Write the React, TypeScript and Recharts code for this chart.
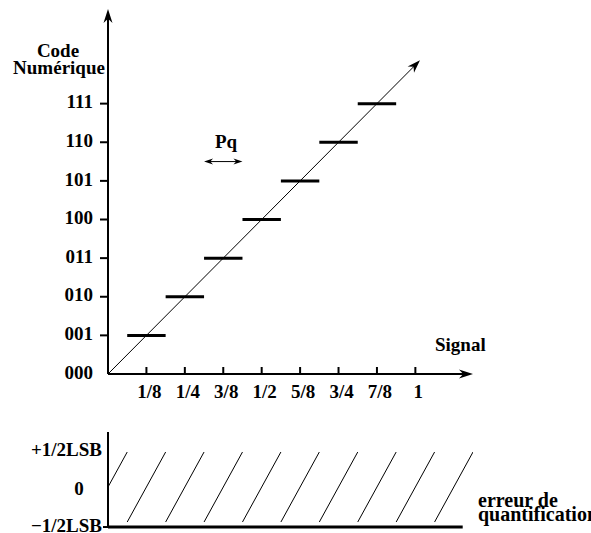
import React from 'react';
import { LineChart, Line, XAxis, YAxis, ReferenceLine } from 'recharts';

const FONT = '"Liberation Serif", "Times New Roman", serif';

// signal axis (top and bottom share it)
const X_MAX = 1.1875;
const signalTicks = [0.125, 0.25, 0.375, 0.5, 0.625, 0.75, 0.875, 1];
const signalLabels = ['1/8', '1/4', '3/8', '1/2', '5/8', '3/4', '7/8', '1'];

// code axis
const CODE_MAX = 9.45;
const codeTicks = [0, 1, 2, 3, 4, 5, 6, 7];
const codeLabels = ['000', '001', '010', '011', '100', '101', '110', '111'];

// plateaus of the staircase
const stepCode = [1, 2, 3, 4, 5, 6, 7];
const stepFrom = [0.0625, 0.1875, 0.3125, 0.4375, 0.5625, 0.6875, 0.8125];
const stepTo = [0.1875, 0.3125, 0.4375, 0.5625, 0.6875, 0.8125, 0.9375];

// ideal transfer line
const diagSignal = [0, 1.015];
const diagCode = [0, 8.12];

// Pq arrow
const pqFrom = 0.3125;
const pqTo = 0.4375;
const pqLevel = 5.5;

// quantification error (sawtooth)
const ERR_MIN = -0.571;
const ERR_MAX = 0.786;
const errTicks = [-0.5, 0, 0.5];
const errLabels = ['\u22121/2LSB', '0', '+1/2LSB'];
const errFrom = [0, 0.0625, 0.1875, 0.3125, 0.4375, 0.5625, 0.6875, 0.8125, 0.9375, 1.0625];
const errTo = [0.0625, 0.1875, 0.3125, 0.4375, 0.5625, 0.6875, 0.8125, 0.9375, 1.0625, 1.1875];
const errLow = [0, -0.5, -0.5, -0.5, -0.5, -0.5, -0.5, -0.5, -0.5, -0.5];
const errHigh = [0.5, 0.5, 0.5, 0.5, 0.5, 0.5, 0.5, 0.5, 0.5, 0.5];
const errLineEnd = 1.154;

const stepData = stepCode.flatMap((c, i) => [
  { signal: stepFrom[i], code: c },
  { signal: stepTo[i], code: c },
  { signal: stepTo[i], code: null },
]);

const errData = errFrom.flatMap((f, i) => [
  { signal: f, err: errLow[i] },
  { signal: errTo[i], err: errHigh[i] },
  { signal: errTo[i], err: null },
]);

const textStyle = { fontFamily: FONT, fontWeight: 700, fontSize: 19, fill: '#000' };

function headPoints(x: number, y: number, ux: number, uy: number, head: number, half: number) {
  const bx = x - ux * head;
  const by = y - uy * head;
  const nx = x - ux * head * 0.7;
  const ny = y - uy * head * 0.7;
  return `${x},${y} ${bx - uy * half},${by + ux * half} ${nx},${ny} ${bx + uy * half},${by - ux * half}`;
}

function ArrowLine(props: any) {
  const { x1, y1, x2, y2, head = 12, half = 4, w = 2, both = false } = props;
  const dx = x2 - x1;
  const dy = y2 - y1;
  const len = Math.hypot(dx, dy) || 1;
  const ux = dx / len;
  const uy = dy / len;
  const sx = both ? x1 + ux * head * 0.6 : x1;
  const sy = both ? y1 + uy * head * 0.6 : y1;
  return (
    <g>
      <line x1={sx} y1={sy} x2={x2 - ux * head * 0.6} y2={y2 - uy * head * 0.6} stroke="#000" strokeWidth={w} />
      <polygon points={headPoints(x2, y2, ux, uy, head, half)} fill="#000" />
      {both && <polygon points={headPoints(x1, y1, -ux, -uy, head, half)} fill="#000" />}
    </g>
  );
}

function SignalTick(props: any) {
  const { x, y, payload } = props;
  const i = signalTicks.indexOf(payload.value);
  return (
    <g>
      <line x1={x} y1={y - 7} x2={x} y2={y} stroke="#000" strokeWidth={2} />
      <text x={x + 3} y={y + 24} textAnchor="middle" style={textStyle}>
        {signalLabels[i]}
      </text>
    </g>
  );
}

function CodeTick(props: any) {
  const { x, y, payload } = props;
  const i = codeTicks.indexOf(payload.value);
  return (
    <g>
      {payload.value !== 0 && <line x1={x - 8} y1={y} x2={x} y2={y} stroke="#000" strokeWidth={2} />}
      <text x={x - 15} y={y - 2} dy="0.35em" textAnchor="end" style={textStyle}>
        {codeLabels[i]}
      </text>
    </g>
  );
}

function ErrTick(props: any) {
  const { x, y, payload } = props;
  const i = errTicks.indexOf(payload.value);
  if (payload.value === 0) {
    return (
      <text x={x - 29} y={y + 1} dy="0.35em" textAnchor="middle" style={textStyle}>
        {errLabels[i]}
      </text>
    );
  }
  const low = payload.value < 0;
  return (
    <g>
      {low && <line x1={x - 5} y1={y + 5} x2={x} y2={y + 5} stroke="#000" strokeWidth={2} />}
      <text x={x - 6} y={low ? y + 3 : y - 3} dy="0.35em" textAnchor="end" style={textStyle}>
        {errLabels[i]}
      </text>
    </g>
  );
}

export default function App() {
  return (
    <div style={{ position: 'absolute', left: 0, top: 0, width: 591, height: 533, overflow: 'hidden', background: '#fff' }}>
      <div style={{ position: 'absolute', left: 0, top: 0 }}>
        <LineChart width={591} height={410} data={stepData} margin={{ top: 9, right: 118, bottom: 6, left: 8 }}>
          <XAxis
            type="number"
            dataKey="signal"
            domain={[0, X_MAX]}
            ticks={signalTicks}
            tick={<SignalTick />}
            tickSize={0}
            tickMargin={0}
            tickLine={false}
            axisLine={false}
            height={30}
            allowDataOverflow
          />
          <YAxis
            type="number"
            domain={[0, CODE_MAX]}
            ticks={codeTicks}
            tick={<CodeTick />}
            tickSize={0}
            tickMargin={0}
            tickLine={false}
            axisLine={false}
            width={100}
            allowDataOverflow
          />
          <ReferenceLine
            segment={[{ x: 0, y: 0 }, { x: X_MAX, y: 0 }]}
            ifOverflow="visible"
            shape={(p: any) => <ArrowLine {...p} head={14} half={4.5} w={2} />}
          />
          <ReferenceLine
            segment={[{ x: 0, y: 0 }, { x: 0, y: CODE_MAX }]}
            ifOverflow="visible"
            shape={(p: any) => <ArrowLine {...p} head={14} half={4.5} w={2} />}
          />
          <ReferenceLine
            segment={[{ x: diagSignal[0], y: diagCode[0] }, { x: diagSignal[1], y: diagCode[1] }]}
            ifOverflow="visible"
            shape={(p: any) => <ArrowLine {...p} head={13} half={4.5} w={1} />}
          />
          <ReferenceLine
            segment={[{ x: pqFrom, y: pqLevel }, { x: pqTo, y: pqLevel }]}
            ifOverflow="visible"
            shape={(p: any) => <ArrowLine {...p} head={9} half={3} w={1} both />}
          />
          <Line
            dataKey="code"
            stroke="#000"
            strokeWidth={3}
            dot={false}
            connectNulls={false}
            isAnimationActive={false}
          />
          <text x={58} y={57} textAnchor="middle" style={textStyle}>Code</text>
          <text x={59} y={74} textAnchor="middle" style={textStyle}>Numérique</text>
          <text x={226} y={148} textAnchor="middle" style={textStyle}>Pq</text>
          <text x={435} y={351} style={textStyle}>Signal</text>
        </LineChart>
      </div>
      <div style={{ position: 'absolute', left: 0, top: 420 }}>
        <LineChart width={591} height={113} data={errData} margin={{ top: 12, right: 118, bottom: 6, left: 8 }}>
          <XAxis type="number" dataKey="signal" domain={[0, X_MAX]} hide allowDataOverflow />
          <YAxis
            type="number"
            domain={[ERR_MIN, ERR_MAX]}
            ticks={errTicks}
            tick={<ErrTick />}
            tickSize={0}
            tickMargin={0}
            tickLine={false}
            axisLine={{ stroke: '#000', strokeWidth: 2 }}
            width={100}
            allowDataOverflow
          />
          <ReferenceLine
            segment={[{ x: 0, y: ERR_MIN }, { x: errLineEnd, y: ERR_MIN }]}
            ifOverflow="visible"
            stroke="#000"
            strokeWidth={3}
          />
          <Line
            dataKey="err"
            stroke="#000"
            strokeWidth={1}
            dot={false}
            connectNulls={false}
            isAnimationActive={false}
          />
          <text x={478} y={87} style={{ ...textStyle, fontSize: 20 }}>erreur de</text>
          <text x={478} y={101} style={{ ...textStyle, fontSize: 20 }}>quantification</text>
        </LineChart>
      </div>
    </div>
  );
}
